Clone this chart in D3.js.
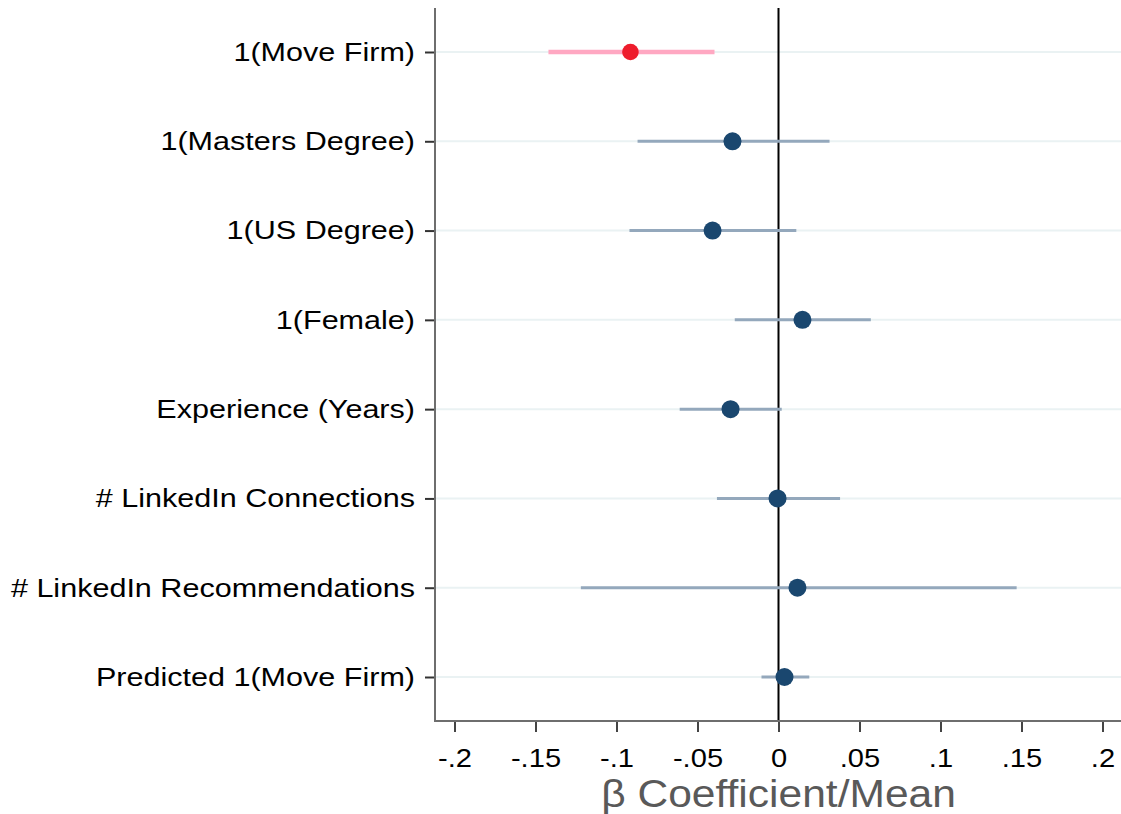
<!DOCTYPE html>
<html><head><meta charset="utf-8">
<script src="https://cdn.jsdelivr.net/npm/d3@7"></script>
<style>html,body{margin:0;padding:0;background:#fff;}</style>
</head><body>
<svg id="chart" width="1121" height="814"></svg>
<script>
const categories = ["1(Move Firm)","1(Masters Degree)","1(US Degree)","1(Female)","Experience (Years)","# LinkedIn Connections","# LinkedIn Recommendations","Predicted 1(Move Firm)"];
const estimates = [-0.0914,-0.0284,-0.0407,0.0148,-0.0296,-0.0006,0.0117,0.0037];
const ciLow = [-0.142,-0.087,-0.092,-0.027,-0.061,-0.038,-0.122,-0.0105];
const ciHigh = [-0.0395,0.0315,0.011,0.057,0.002,0.038,0.147,0.019];
const highlighted = [true,false,false,false,false,false,false,false];
const xTicks = [-0.2,-0.15,-0.1,-0.05,0,0.05,0.1,0.15,0.2];
const xTickLabels = ["-.2","-.15","-.1","-.05","0",".05",".1",".15",".2"];

const svg = d3.select("#chart");
const font = "'Liberation Sans', Arial, sans-serif";
const plotLeft = 435, plotRight = 1121, plotTop = 8, plotBottom = 721;
const x = d3.scaleLinear().domain([-0.2,0.2]).range([454.5,1102.5]);
const y = d3.scalePoint().domain(categories).range([52,677]);

// gridlines
svg.append("g").selectAll("line").data(categories).join("line")
  .attr("x1", plotLeft).attr("x2", plotRight)
  .attr("y1", d=>y(d)).attr("y2", d=>y(d))
  .attr("stroke", "#eaf2f3").attr("stroke-width", 2);

// zero line
svg.append("line").attr("x1", x(0)).attr("x2", x(0))
  .attr("y1", plotTop).attr("y2", plotBottom)
  .attr("stroke", "#000").attr("stroke-width", 2);

const data = categories.map((c,i)=>({c, est: estimates[i], lo: ciLow[i], hi: ciHigh[i], hl: highlighted[i]}));

// CIs
svg.append("g").selectAll("line").data(data).join("line")
  .attr("x1", d=>x(d.lo)).attr("x2", d=>x(d.hi))
  .attr("y1", d=>y(d.c)).attr("y2", d=>y(d.c))
  .attr("stroke", d=>d.hl ? "#ffa8c2" : "#94a8bc")
  .attr("stroke-width", d=>d.hl ? 4.5 : 3);

// points
svg.append("g").selectAll("circle").data(data).join("circle")
  .attr("cx", d=>x(d.est)).attr("cy", d=>y(d.c))
  .attr("r", d=>d.hl ? 8.3 : 9)
  .attr("fill", d=>d.hl ? "#ee1c2c" : "#1a476f");

// y axis
const yAxis = d3.axisLeft(y).tickSize(10).tickPadding(10);
const gy = svg.append("g").attr("transform", `translate(${plotLeft},0)`).call(yAxis);
gy.select(".domain").remove();
gy.selectAll(".tick line").attr("stroke", "#333").attr("stroke-width", 2);
gy.selectAll(".tick text").attr("font-family", font).attr("font-size", 26).attr("fill", "#000")
  .attr("x", 0).attr("dy", "0.32em").attr("transform", "translate(-20,0) scale(1.175,1)");
svg.append("line").attr("x1", plotLeft).attr("x2", plotLeft).attr("y1", plotTop).attr("y2", plotBottom+1)
  .attr("stroke", "#6e6e6e").attr("stroke-width", 2);

// x axis
const xAxis = d3.axisBottom(x).tickValues(xTicks).tickFormat((d,i)=>xTickLabels[i]).tickSize(11).tickPadding(14);
const gx = svg.append("g").attr("transform", `translate(0,${plotBottom})`).call(xAxis);
gx.select(".domain").remove();
gx.selectAll(".tick line").attr("stroke", "#444").attr("stroke-width", 2);
gx.selectAll(".tick text").attr("font-family", font).attr("font-size", 26).attr("fill", "#000")
  .attr("y", 46).attr("dy", null).attr("transform", "scale(1.12,1)");
svg.append("line").attr("x1", plotLeft-1).attr("x2", plotRight).attr("y1", plotBottom).attr("y2", plotBottom)
  .attr("stroke", "#6e6e6e").attr("stroke-width", 2);

// axis title
svg.append("text").attr("x", 0).attr("y", 807).attr("text-anchor", "middle")
  .attr("transform", `translate(${x(0)},0) scale(1.12,1)`)
  .attr("font-family", font).attr("font-size", 38).attr("fill", "#595959")
  .text("β Coefficient/Mean");
</script>
</body></html>
